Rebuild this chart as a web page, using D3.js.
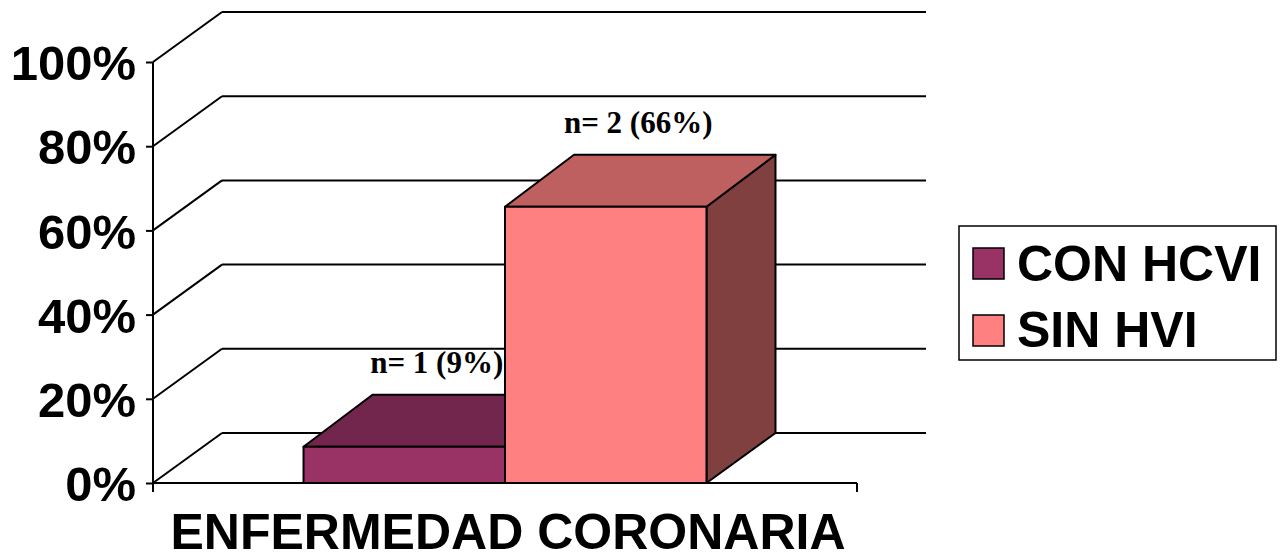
<!DOCTYPE html>
<html>
<head>
<meta charset="utf-8">
<script src="https://cdn.jsdelivr.net/npm/d3@7"></script>
<style>
	body { margin: 0; background: #fff; }
	text { font-family: "Liberation Sans", Arial, sans-serif; font-weight: bold; }
</style>
</head>
<body>
<div id="chart"></div>
<script>
// Data
var categories = ["ENFERMEDAD CORONARIA"];
var series = ["CON HCVI", "SIN HVI"];
var values = [8.6, 65.6];
var barLabels = ["n= 1 (9%)", "n= 2 (66%)"];
var yTicks = [0, 20, 40, 60, 80, 100];

// Globals
var width = 1286;
var height = 559;
var svg = d3.select("#chart")
	.append("svg")
	.attr("width", width)
	.attr("height", height);

var plot = {l: 153, r: 857, t: 62, b: 483};
var depth = {x: 69, y: -50, yTop: -52};
var front = ["#993366", "#FF8080"];
var top3d = ["#73264d", "#bf6060"];
var side3d = ["#5c1f3d", "#804040"];

var y = d3.scaleLinear()
	.domain([0, 100])
	.range([plot.b, plot.t]);

var x0 = d3.scaleBand()
	.domain(categories)
	.range([plot.l, plot.r])
	.paddingOuter(0.3735);

var x1 = d3.scaleBand()
	.domain(series)
	.range([0, x0.bandwidth()]);

// Walls / gridlines
var grid = svg.append("g")
	.attr("fill", "none")
	.attr("stroke", "#000")
	.attr("stroke-width", 2);

grid.selectAll(".diag")
	.data(yTicks)
	.enter().append("line")
		.attr("x1", plot.l)
		.attr("y1", function(d) { return y(d); })
		.attr("x2", plot.l + depth.x)
		.attr("y2", function(d) { return y(d) + depth.y; });

grid.selectAll(".back")
	.data(yTicks)
	.enter().append("line")
		.attr("x1", plot.l + depth.x)
		.attr("y1", function(d) { return y(d) + depth.y; })
		.attr("x2", plot.r + depth.x)
		.attr("y2", function(d) { return y(d) + depth.y; });

// Bars
function pts(a) { return a.map(function(p) { return p.join(","); }).join(" "); }

var bars = svg.append("g")
	.attr("stroke", "#000")
	.attr("stroke-width", 2)
	.attr("stroke-linejoin", "round");

series.forEach(function(s, i) {
	var xa = x0(categories[0]) + x1(s);
	var xb = xa + x1.bandwidth();
	var yt = y(values[i]);
	var yb = y(0);
	var g = bars.append("g");
	g.append("polygon")
		.attr("points", pts([[xb, yb], [xb, yt], [xb + depth.x, yt + depth.yTop], [xb + depth.x, yb + depth.y]]))
		.attr("fill", side3d[i]);
	g.append("polygon")
		.attr("points", pts([[xa, yt], [xa + depth.x, yt + depth.yTop], [xb + depth.x, yt + depth.yTop], [xb, yt]]))
		.attr("fill", top3d[i]);
	g.append("rect")
		.attr("x", xa)
		.attr("y", yt)
		.attr("width", xb - xa)
		.attr("height", yb - yt)
		.attr("fill", front[i]);
	svg.append("text")
		.attr("x", (xa + xb) / 2 + depth.x / 2 - 2)
		.attr("y", yt + depth.yTop - 22)
		.attr("text-anchor", "middle")
		.style("font-family", "'Liberation Serif', 'Times New Roman', serif")
		.style("font-size", "31px")
		.text(barLabels[i]);
});

// Axes
var axisY = svg.append("g")
	.attr("transform", "translate(" + plot.l + ",0)")
	.call(d3.axisLeft(y).tickValues(yTicks).tickSize(7).tickPadding(10)
		.tickFormat(function(d) { return d + "%"; }));
axisY.select(".domain").attr("stroke-width", 2).attr("d", "M0," + (plot.b + 9) + "V" + plot.t);
axisY.selectAll(".tick line").attr("stroke-width", 2);
axisY.selectAll("text")
	.attr("fill", "#000")
	.style("font-size", "49px")
	.attr("dy", "0.36em");

var axisX = svg.append("g")
	.attr("transform", "translate(0," + plot.b + ")");
axisX.append("line")
	.attr("x1", plot.l).attr("x2", plot.r)
	.attr("stroke", "#000").attr("stroke-width", 2);
axisX.selectAll(".xt")
	.data([plot.l, plot.r])
	.enter().append("line")
		.attr("x1", function(d) { return d; })
		.attr("x2", function(d) { return d; })
		.attr("y1", 0).attr("y2", 9)
		.attr("stroke", "#000").attr("stroke-width", 2);
axisX.append("text")
	.attr("x", x0(categories[0]) + x0.bandwidth() / 2 + 3)
	.attr("y", 66)
	.attr("text-anchor", "middle")
	.style("font-size", "50px")
	.text(categories[0]);

// Legend
var legend = svg.append("g").attr("transform", "translate(959,226)");
legend.append("rect")
	.attr("width", 317).attr("height", 134)
	.attr("fill", "#fff").attr("stroke", "#000").attr("stroke-width", 1.5);
series.forEach(function(s, i) {
	legend.append("rect")
		.attr("x", 14).attr("y", 22 + i * 67)
		.attr("width", 31).attr("height", 31)
		.attr("fill", front[i]).attr("stroke", "#000").attr("stroke-width", 1.5);
	legend.append("text")
		.attr("x", 58).attr("y", 55 + i * 66)
		.style("font-size", "50px")
		.text(s);
});
</script>
</body>
</html>
